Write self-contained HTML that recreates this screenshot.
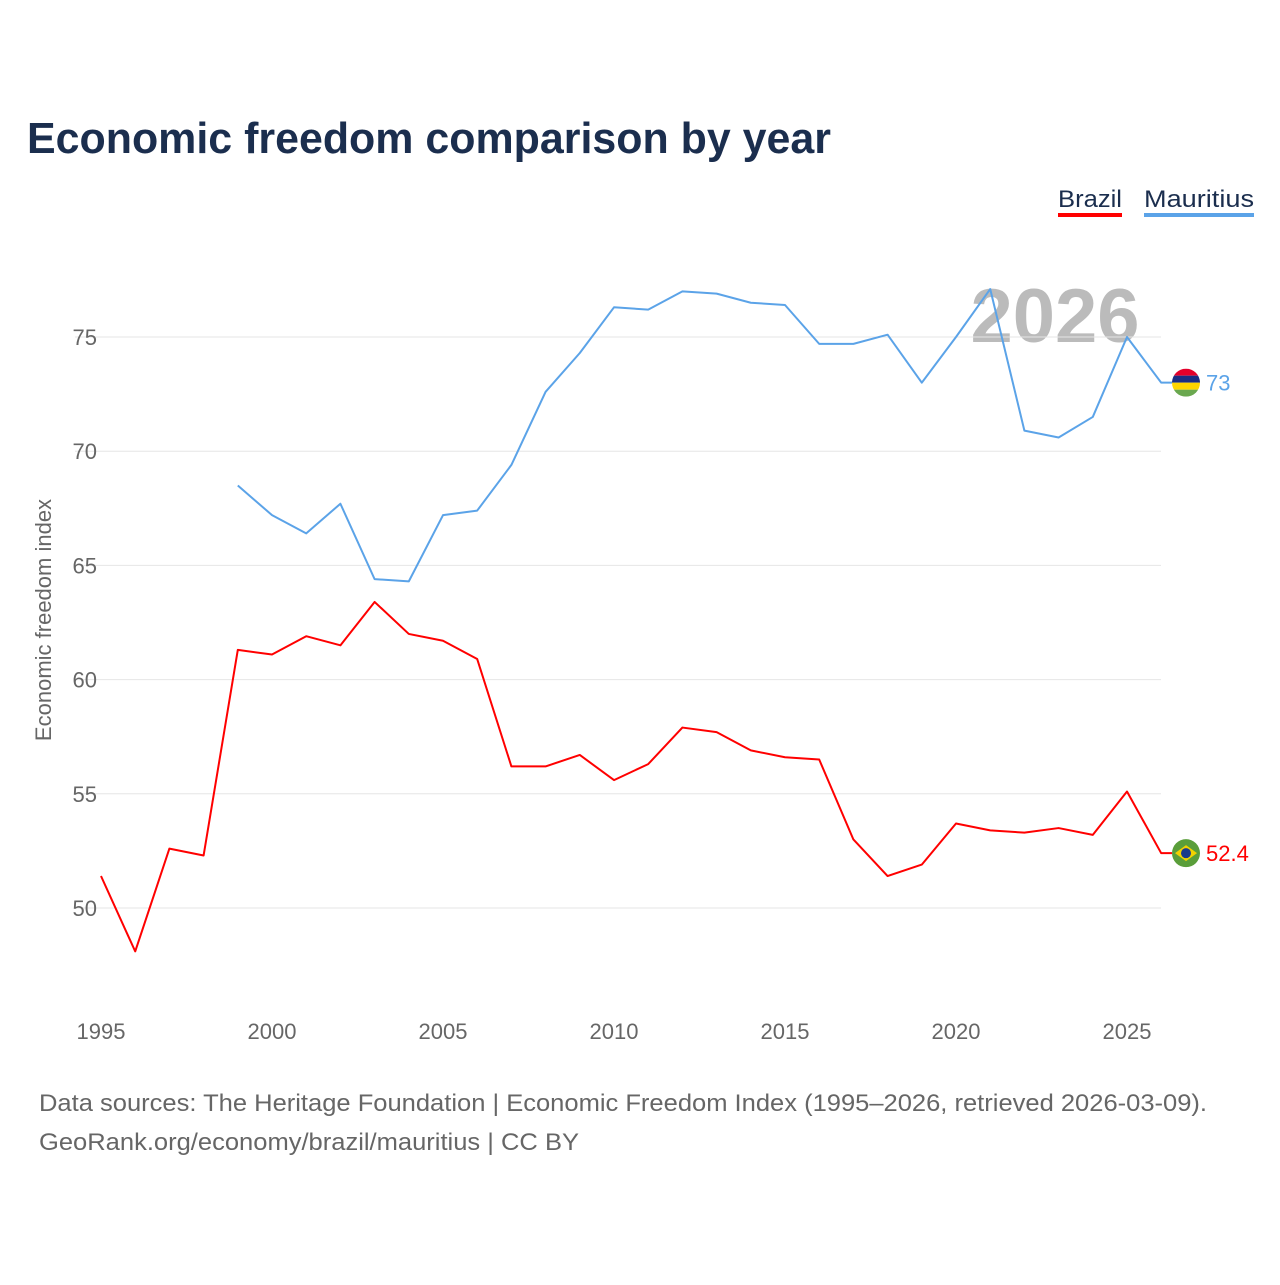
<!DOCTYPE html>
<html><head><meta charset="utf-8"><style>
body{margin:0;background:#fff;width:1280px;height:1280px;overflow:hidden;font-family:"Liberation Sans",sans-serif}
</style></head><body>
<svg width="1280" height="1280" xmlns="http://www.w3.org/2000/svg" id="chart">
<text x="27" y="153" font-size="44" font-weight="bold" fill="#1b2e4e" textLength="804" lengthAdjust="spacingAndGlyphs">Economic freedom comparison by year</text>
<g>
<text x="1058" y="207" font-size="24" fill="#1b2e4e" textLength="64" lengthAdjust="spacingAndGlyphs">Brazil</text>
<rect x="1058" y="213" width="64" height="4" fill="#ff0000"/>
<text x="1144" y="207" font-size="24" fill="#1b2e4e" textLength="110" lengthAdjust="spacingAndGlyphs">Mauritius</text>
<rect x="1144" y="213" width="110" height="4" fill="#5ba3e8"/>
</g>
<text x="1055" y="342" font-size="76" font-weight="bold" fill="#bbbbbb" text-anchor="middle">2026</text>
<text transform="translate(51,620) rotate(-90)" font-size="22" fill="#666" text-anchor="middle">Economic freedom index</text>
<g id="grid"></g><g id="xt"></g><g id="lines"></g>
<text x="39" y="1111" font-size="24" fill="#666" textLength="1168" lengthAdjust="spacingAndGlyphs">Data sources: The Heritage Foundation | Economic Freedom Index (1995–2026, retrieved 2026-03-09).</text>
<text x="39" y="1150" font-size="24" fill="#666" textLength="540" lengthAdjust="spacingAndGlyphs">GeoRank.org/economy/brazil/mauritius | CC BY</text>
</svg>
<script>
const years=[1995,1996,1997,1998,1999,2000,2001,2002,2003,2004,2005,2006,2007,2008,2009,2010,2011,2012,2013,2014,2015,2016,2017,2018,2019,2020,2021,2022,2023,2024,2025,2026];
const brazil=[51.4,48.1,52.6,52.3,61.3,61.1,61.9,61.5,63.4,62.0,61.7,60.9,56.2,56.2,56.7,55.6,56.3,57.9,57.7,56.9,56.6,56.5,53.0,51.4,51.9,53.7,53.4,53.3,53.5,53.2,55.1,52.4];
const mauritius=[null,null,null,null,68.5,67.2,66.4,67.7,64.4,64.3,67.2,67.4,69.4,72.6,74.3,76.3,76.2,77.0,76.9,76.5,76.4,74.7,74.7,75.1,73.0,75.0,77.1,70.9,70.6,71.5,75.0,73.0];
const yTicks=[50,55,60,65,70,75];
const xTicks=[1995,2000,2005,2010,2015,2020,2025];
const NS="http://www.w3.org/2000/svg";
const X=y=>101+(y-1995)*34.2;
const Y=v=>908-(v-50)*22.84;
function mk(t,a,p){const e=document.createElementNS(NS,t);for(const k in a)e.setAttribute(k,a[k]);p.appendChild(e);return e;}
const g=document.getElementById('grid');
yTicks.forEach(v=>{
 const l=mk('line',{x1:75,x2:1161,y1:Y(v),y2:Y(v),stroke:'#e6e6e6','stroke-width':1},g);
 
 
 const t=mk('text',{x:97,y:Y(v)+8,'font-size':22,fill:'#666','text-anchor':'end'},g);t.textContent=v;
 
 
});
const xt=document.getElementById('xt');
xTicks.forEach(v=>{
 const t=mk('text',{x:X(v),y:1039,'font-size':22,fill:'#666','text-anchor':'middle'},xt);t.textContent=v;
 
 
});
const L=document.getElementById('lines');
function series(vals,color,name,label,flag){
 let d='';vals.forEach((v,i)=>{if(v==null)return;d+=(d?'L':'M')+X(years[i])+','+Y(v);});
 const last=vals[vals.length-1],cy=Y(last);
 d+='L1172,'+cy;
 const p=mk('path',{d:d,fill:'none',stroke:color,'stroke-width':2,'stroke-linejoin':'round'},L);
 
 
 const fg=mk('g',{},L);
 
 
 flag(fg,1186,cy);
 const t=mk('text',{x:1206,y:cy+8,'font-size':22,fill:color},L);t.textContent=label;
 
 
}
series(mauritius,'#5ba3e8','mauritius','73',(p,cx,cy)=>{
 const cols=['#e4002b','#1a2d84','#ffd500','#6aa84f'];
 const cp=mk('clipPath',{id:'cm'},p);mk('circle',{cx:cx,cy:cy,r:14},cp);
 cols.forEach((c,i)=>mk('rect',{x:cx-14,y:cy-14+i*7,width:28,height:7,fill:c,'clip-path':'url(#cm)'},p));
});
series(brazil,'#ff0000','brazil','52.4',(p,cx,cy)=>{
 mk('circle',{cx:cx,cy:cy,r:14,fill:'#5a9e3a'},p);
 mk('polygon',{points:`${cx-11},${cy} ${cx},${cy-8} ${cx+11},${cy} ${cx},${cy+8}`,fill:'#f2d200'},p);
 mk('circle',{cx:cx,cy:cy,r:5,fill:'#1a3a8a'},p);
});
</script>
</body></html>
